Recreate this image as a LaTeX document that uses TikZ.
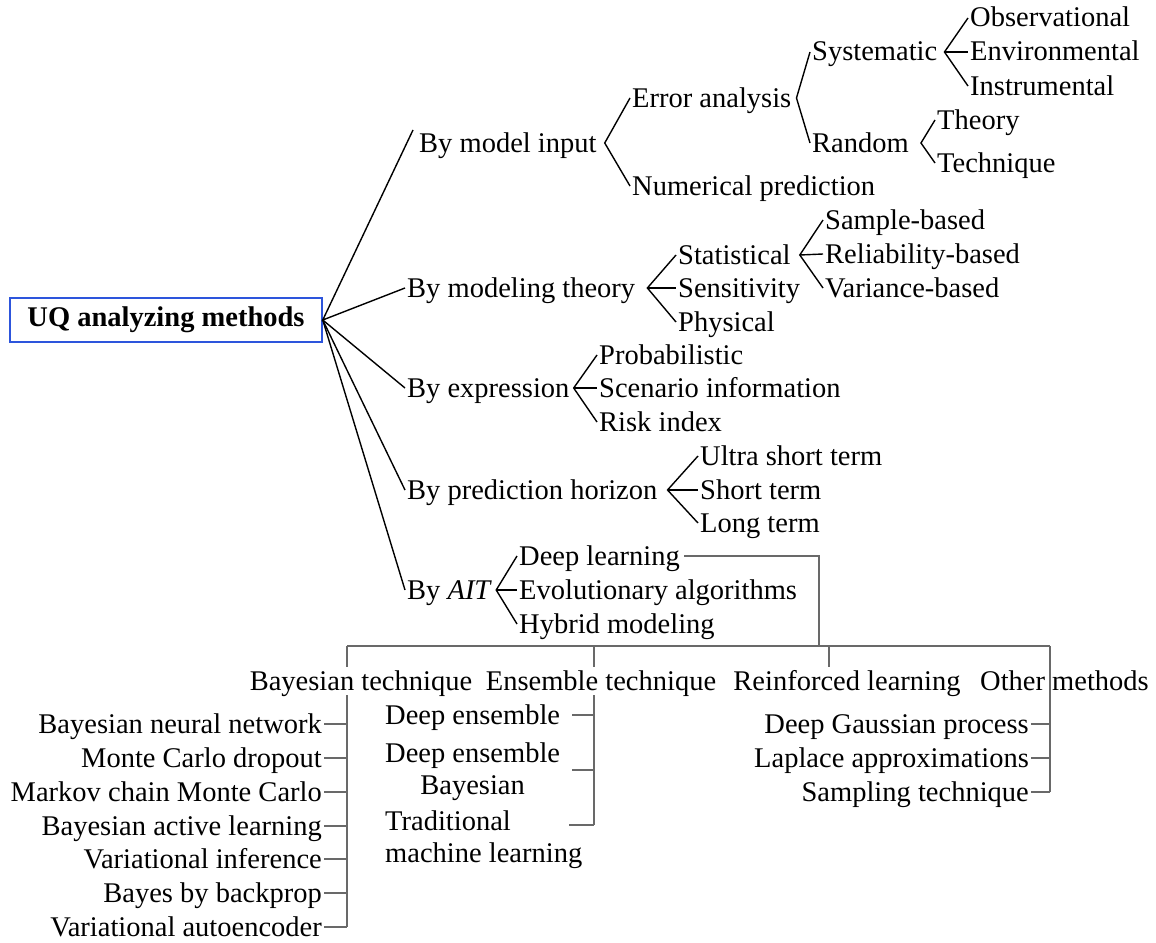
\documentclass[tikz,border=0pt]{standalone}
\usepackage{fontspec}
\setmainfont{Liberation Serif}
\usetikzlibrary{calc}
\definecolor{boxblue}{RGB}{45,85,220}
\definecolor{treegray}{RGB}{105,105,105}
\begin{document}
\begin{tikzpicture}[x=1pt,y=-1pt,
  lbl/.style={inner sep=2pt, text height=21pt, text depth=3pt, font=\fontsize{28.5}{32}\selectfont},
  ml/.style={inner sep=2pt, font=\fontsize{28.5}{32}\selectfont},
  br/.style={line width=1.4pt, draw=black},
  tr/.style={line width=1.1pt, draw=treegray},
]
\useasboundingbox[fill=white] (0,0) rectangle (1156,942);

% root
\node[draw=boxblue, line width=1.5pt, minimum width=312pt, minimum height=44pt, inner sep=0pt,
      font=\fontsize{28.5}{32}\selectfont\bfseries] (root) at (166,320) {UQ analyzing methods};

% level 1
\node[lbl, anchor=west] (bmi) at (417,143) {By model input};
\node[lbl, anchor=west] (bmt) at (405,288) {By modeling theory};
\node[lbl, anchor=west] (bex) at (405,388) {By expression};
\node[lbl, anchor=west] (bph) at (405,490) {By prediction horizon};
\node[lbl, anchor=west] (bait) at (405,590) {By \textit{AIT}};

\draw[br] ($(bmi.west)+(-4,-13)$) -- (root.east) -- (bmt.west);
\draw[br] (root.east) -- (bex.west);
\draw[br] (root.east) -- (bph.west);
\draw[br] (root.east) -- (bait.west);

% by model input
\node[lbl, anchor=west] (ea) at (630,98) {Error analysis};
\node[lbl, anchor=west] (np) at (630,186) {Numerical prediction};
\coordinate (v1) at ($(bmi.east)+(6,0)$);
\draw[br] (ea.west) -- (v1) -- (np.west);

\node[lbl, anchor=west] (sys) at (810,52) {Systematic};
\node[lbl, anchor=west] (rnd) at (810,143) {Random};
\coordinate (v2) at ($(ea.east)+(3,0)$);
\draw[br] (sys.west) -- (v2) -- (rnd.west);

\node[lbl, anchor=west] (obs) at (968,18) {Observational};
\node[lbl, anchor=west] (env) at (968,52) {Environmental};
\node[lbl, anchor=west] (ins) at (968,86) {Instrumental};
\coordinate (v3) at ($(sys.east)+(5,0)$);
\draw[br] (obs.west) -- (v3) -- (ins.west);
\draw[br] (v3) -- (env.west);

\node[lbl, anchor=west] (the) at (935,120) {Theory};
\node[lbl, anchor=west] (tec) at (935,163) {Technique};
\coordinate (v4) at ($(rnd.east)+(10,0)$);
\draw[br] (the.west) -- (v4) -- (tec.west);

% by modeling theory
\node[lbl, anchor=west] (sta) at (676,255) {Statistical};
\node[lbl, anchor=west] (sen) at (676,288) {Sensitivity};
\node[lbl, anchor=west] (phy) at (676,322) {Physical};
\coordinate (v5) at ($(bmt.east)+(10,0)$);
\draw[br] (sta.west) -- (v5) -- (phy.west);
\draw[br] (v5) -- (sen.west);

\node[lbl, anchor=west] (sb) at (823,220) {Sample-based};
\node[lbl, anchor=west] (rb) at (823,254) {Reliability-based};
\node[lbl, anchor=west] (vb) at (823,288) {Variance-based};
\coordinate (v6) at ($(sta.east)+(7,0)$);
\draw[br] (sb.west) -- (v6) -- (vb.west);
\draw[br] (v6) -- (rb.west);

% by expression
\node[lbl, anchor=west] (pro) at (597,355) {Probabilistic};
\node[lbl, anchor=west] (sce) at (597,388) {Scenario information};
\node[lbl, anchor=west] (risk) at (597,422) {Risk index};
\coordinate (v7) at ($(bex.east)+(2,0)$);
\draw[br] (pro.west) -- (v7) -- (risk.west);
\draw[br] (v7) -- (sce.west);

% by prediction horizon
\node[lbl, anchor=west] (ust) at (698,456) {Ultra short term};
\node[lbl, anchor=west] (st) at (698,490) {Short term};
\node[lbl, anchor=west] (lt) at (698,523) {Long term};
\coordinate (v8) at ($(bph.east)+(8,0)$);
\draw[br] (ust.west) -- (v8) -- (lt.west);
\draw[br] (v8) -- (st.west);

% by AIT
\node[lbl, anchor=west] (dl) at (517,556) {Deep learning};
\node[lbl, anchor=west] (ev) at (517,590) {Evolutionary algorithms};
\node[lbl, anchor=west] (hy) at (517,624) {Hybrid modeling};
\coordinate (v9) at ($(bait.east)+(2,0)$);
\draw[br] (dl.west) -- (v9) -- (hy.west);
\draw[br] (v9) -- (ev.west);

% bottom tree
\coordinate (dlx) at (819,646);
\coordinate (bbar) at (347,646);
\coordinate (ebar) at (594,646);
\coordinate (rbar) at (829,646);
\coordinate (obar) at (1050,646);
\draw[tr] ($(dl.east)+(2,0)$) -- (dl.east -| dlx) -- (dlx);
\draw[tr] (bbar) -- (obar);

\node[lbl] (bt) at (361,681) {Bayesian technique};
\node[lbl] (et) at (601,681) {Ensemble technique};
\node[lbl] (rl) at (847,681) {Reinforced learning};
\node[lbl, anchor=west] (om) at (978,681) {Other methods};

\draw[tr] (bbar) -- (bbar |- bt.north);
\draw[tr] (ebar) -- (ebar |- et.north);
\draw[tr] (rbar) -- (rbar |- rl.north);

% Bayesian children
\node[lbl, anchor=east] (b1) at (324,724) {Bayesian neural network};
\node[lbl, anchor=east] (b2) at (324,758) {Monte Carlo dropout};
\node[lbl, anchor=east] (b3) at (324,792) {Markov chain Monte Carlo};
\node[lbl, anchor=east] (b4) at (324,826) {Bayesian active learning};
\node[lbl, anchor=east] (b5) at (324,859) {Variational inference};
\node[lbl, anchor=east] (b6) at (324,893) {Bayes by backprop};
\node[lbl, anchor=east] (b7) at (324,927) {Variational autoencoder};
\draw[tr] (bbar |- bt.south) -- (bbar |- b7.east);
\foreach \n in {b1,b2,b3,b4,b5,b6,b7}
  \draw[tr] (\n.east) -- (\n.east -| bbar);

% Ensemble children
\node[lbl, anchor=west] (de1) at (383,715) {Deep ensemble};
\node[ml, anchor=west, align=center] (de2) at (383,772) {Deep ensemble\\Bayesian};
\node[ml, anchor=west, align=left] (tm) at (383,840) {Traditional\\machine learning};
\draw[tr] ($(de1.east)+(10,0)$) -- (de1.east -| ebar);
\draw[tr] ($(de2.east)+(10,-2)$) coordinate (d2t) -- (d2t -| ebar);
\draw[tr] ($(tm.east)+(-15,-15)$) coordinate (tmt) -- (tmt -| ebar);
\draw[tr] (ebar |- et.south) -- (tmt -| ebar);

% Other children
\node[lbl, anchor=east] (o1) at (1031,724) {Deep Gaussian process};
\node[lbl, anchor=east] (o2) at (1031,758) {Laplace approximations};
\node[lbl, anchor=east] (o3) at (1031,792) {Sampling technique};
\foreach \n in {o1,o2,o3}
  \draw[tr] (\n.east) -- (\n.east -| obar);
\draw[tr] (obar) -- (obar |- o3.east);
\end{tikzpicture}
\end{document}
